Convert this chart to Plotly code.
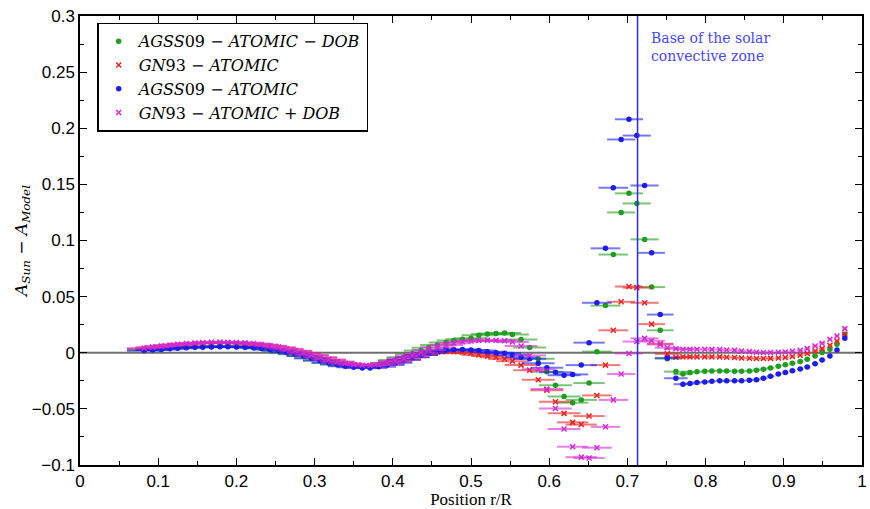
import plotly.graph_objects as go

# ---- data ----
r_pos = [0.082, 0.093, 0.104, 0.115, 0.125, 0.136, 0.147, 0.157, 0.168, 0.179,
         0.189, 0.200, 0.211, 0.222, 0.232, 0.243, 0.254, 0.264, 0.275, 0.286,
         0.296, 0.307, 0.318, 0.329, 0.339, 0.350, 0.361, 0.371, 0.382, 0.393,
         0.403, 0.414, 0.425, 0.436, 0.446, 0.457, 0.468, 0.478, 0.489, 0.500,
         0.510,
         0.521, 0.532, 0.543, 0.553, 0.564, 0.575, 0.586, 0.597, 0.608, 0.619,
         0.630, 0.641, 0.651, 0.661, 0.672, 0.682, 0.692, 0.702, 0.712, 0.722,
         0.731, 0.742, 0.751,
         0.762, 0.771, 0.780, 0.789, 0.799, 0.808, 0.818, 0.827, 0.837, 0.846,
         0.856, 0.865, 0.874, 0.883, 0.893, 0.902, 0.911, 0.921, 0.930, 0.940,
         0.949, 0.959, 0.968, 0.978]

r_err = [0.022, 0.022, 0.022, 0.022, 0.022, 0.022, 0.022, 0.022, 0.022, 0.022,
         0.022, 0.022, 0.022, 0.022, 0.022, 0.022, 0.022, 0.022, 0.022, 0.022,
         0.022, 0.022, 0.022, 0.022, 0.022, 0.022, 0.022, 0.022, 0.022, 0.022,
         0.022, 0.022, 0.022, 0.022, 0.022, 0.022, 0.022, 0.022, 0.022, 0.022,
         0.022,
         0.021, 0.021, 0.021, 0.021, 0.021, 0.021, 0.021, 0.021, 0.021, 0.021,
         0.020, 0.020, 0.020, 0.019, 0.019, 0.019, 0.018, 0.018, 0.018, 0.018,
         0.017, 0.017, 0.016,
         0.015, 0.012, 0.006, 0.006, 0.005, 0.005, 0.005, 0.005, 0.005, 0.005,
         0.005, 0.005, 0.005, 0.005, 0.004, 0.004, 0.004, 0.004, 0.004, 0.004,
         0.004, 0.003, 0.003, 0.003]

agss09_atomic_dob = [0.002, 0.0027, 0.0033, 0.004, 0.0045, 0.005, 0.0053, 0.0056, 0.0058, 0.0058,
                     0.0058, 0.0056, 0.0053, 0.0048, 0.004, 0.003, 0.0018, 0.0003, -0.0013, -0.003,
                     -0.005, -0.007, -0.0088, -0.0103, -0.0115, -0.0123, -0.0125, -0.012, -0.011, -0.009,
                     -0.0065, -0.004, -0.001, 0.002, 0.0045, 0.007, 0.0092, 0.011, 0.012, 0.013,
                     0.0156,
                     0.0166, 0.0172, 0.0175, 0.0163, 0.0118, 0.0047, -0.0053, -0.017, -0.0289, -0.039,
                     -0.0445, -0.042, -0.027, 0.001, 0.042, 0.0875, 0.125, 0.142, 0.133, 0.101,
                     0.0585, 0.020, -0.0053,
                     -0.0168, -0.019, -0.0177, -0.017, -0.0165, -0.0162, -0.0162, -0.0162, -0.0165, -0.0165,
                     -0.0162, -0.0155, -0.0147, -0.0135, -0.012, -0.0108, -0.0094, -0.0079, -0.0058, -0.0028,
                     0.0002, 0.0031, 0.0076, 0.0165]

gn93_atomic = [0.0035, 0.0045, 0.0055, 0.0063, 0.007, 0.0077, 0.0082, 0.0086, 0.0088, 0.0089,
               0.0088, 0.0086, 0.0082, 0.0076, 0.0068, 0.0058, 0.0045, 0.003, 0.0013, -0.0005,
               -0.0025, -0.0045, -0.0065, -0.0083, -0.0098, -0.011, -0.0115, -0.0115, -0.011, -0.0098,
               -0.008, -0.006, -0.004, -0.002, -0.0005, 0.0005, 0.001, 0.001, 0.0005, -0.0005,
               -0.002,
               -0.003, -0.004, -0.0055, -0.0075, -0.011, -0.0155, -0.024, -0.0333, -0.0436, -0.054,
               -0.062, -0.064, -0.0564, -0.038, -0.011, 0.020, 0.0454, 0.059, 0.058, 0.0445,
               0.0255, 0.008, -0.001,
               -0.004, -0.0037, -0.0037, -0.0037, -0.0037, -0.0037, -0.0037, -0.004, -0.0043, -0.0046,
               -0.0049, -0.0052, -0.0052, -0.005, -0.0047, -0.0043, -0.0034, -0.0022, -0.0007, 0.0016,
               0.0037, 0.0067, 0.0105, 0.0165]

agss09_atomic = [0.002, 0.0025, 0.003, 0.0035, 0.004, 0.0045, 0.0048, 0.005, 0.0052, 0.0053,
                 0.0053, 0.0052, 0.005, 0.0045, 0.004, 0.003, 0.002, 0.0005, -0.001, -0.003,
                 -0.005, -0.007, -0.009, -0.0105, -0.012, -0.013, -0.0135, -0.0135, -0.0125, -0.011,
                 -0.009, -0.0065, -0.004, -0.002, 0.0, 0.0015, 0.0025, 0.003, 0.003, 0.0025,
                 0.002,
                 0.001, 0.0, -0.0005, -0.002, -0.004, -0.0053, -0.0093, -0.0134, -0.0173, -0.020,
                 -0.0193, -0.011, 0.009, 0.0445, 0.093, 0.147, 0.190, 0.208, 0.1935, 0.149,
                 0.089, 0.034, -0.0046,
                 -0.0227, -0.028, -0.0275, -0.0265, -0.026, -0.0255, -0.025, -0.025, -0.025, -0.025,
                 -0.0245, -0.024, -0.0228, -0.021, -0.019, -0.0175, -0.016, -0.0145, -0.0126, -0.0097,
                 -0.0064, -0.0028, 0.0025, 0.013]

gn93_atomic_dob = [0.004, 0.005, 0.006, 0.0068, 0.0075, 0.0082, 0.0087, 0.0091, 0.0094, 0.0095,
                   0.0094, 0.0092, 0.0088, 0.0082, 0.0074, 0.0063, 0.005, 0.0035, 0.0018, 0.0,
                   -0.002, -0.004, -0.006, -0.0078, -0.0093, -0.0105, -0.0112, -0.0113, -0.0107, -0.0093,
                   -0.0073, -0.005, -0.0025, 0.0, 0.0025, 0.0048, 0.0068, 0.0085, 0.0098, 0.0105,
                   0.011,
                   0.011, 0.011, 0.0107, 0.0095, 0.006, -0.0024, -0.0148, -0.0324, -0.0496, -0.068,
                   -0.0837, -0.093, -0.0937, -0.0846, -0.066, -0.042, -0.019, -0.0006, 0.010, 0.0128,
                   0.0107, 0.0074, 0.0045,
                   0.0035, 0.0031, 0.0031, 0.0031, 0.0031, 0.003, 0.0028, 0.0025, 0.0022, 0.0016,
                   0.001, 0.0004, 0.0002, 0.0002, 0.0004, 0.0007, 0.0013, 0.0022, 0.0037, 0.006,
                   0.0085, 0.012, 0.015, 0.0215]

series_names = ["<i>AGSS</i>09 − <i>ATOMIC</i> − <i>DOB</i>",
                "<i>GN</i>93 − <i>ATOMIC</i>",
                "<i>AGSS</i>09 − <i>ATOMIC</i>",
                "<i>GN</i>93 − <i>ATOMIC</i> + <i>DOB</i>"]
series_values = [agss09_atomic_dob, gn93_atomic, agss09_atomic, gn93_atomic_dob]
series_colors = ["#1e9e1e", "#ee2020", "#1c1cf0", "#d42ad4"]
series_bar_colors = ["rgba(30,158,30,0.6)", "rgba(238,32,32,0.6)",
                     "rgba(28,28,240,0.6)", "rgba(212,42,212,0.6)"]
series_symbols = ["circle", "x-thin-open", "circle", "x-thin-open"]

bcz = 0.713

x_ticks = [0, 0.1, 0.2, 0.3, 0.4, 0.5, 0.6, 0.7, 0.8, 0.9, 1]
y_ticks = [-0.1, -0.05, 0, 0.05, 0.1, 0.15, 0.2, 0.25, 0.3]

SERIF = "DejaVu Serif, Liberation Serif, serif"

fig = go.Figure()

for name, vals, col, bcol, sym in zip(series_names, series_values, series_colors,
                                      series_bar_colors, series_symbols):
    fig.add_trace(go.Scatter(
        x=r_pos, y=vals, mode="markers", name=name,
        marker=dict(color=col, size=4 if sym == "circle" else 5, symbol=sym,
                    line=dict(color=col, width=1.5)),
        error_x=dict(type="data", array=r_err, visible=True, color=bcol,
                     thickness=2, width=0),
    ))

# zero line
fig.add_shape(type="line", xref="paper", x0=0, x1=1, yref="y", y0=0, y1=0,
              line=dict(color="#707070", width=2), layer="below")
# base of convective zone
fig.add_shape(type="line", xref="x", x0=bcz, x1=bcz, yref="paper", y0=0, y1=1,
              line=dict(color="#2a2aff", width=1.5), layer="above")

fig.add_annotation(x=0.728, y=0.289, xref="x", yref="y", xanchor="left", yanchor="top",
                   align="left", showarrow=False,
                   text="Base of the solar<br>convective zone",
                   font=dict(family=SERIF, size=14, color="#4848ff"))

tick_font = dict(family="Liberation Sans, Arial, sans-serif", size=17, color="black")

fig.update_xaxes(range=[0, 1], tickvals=x_ticks, ticks="inside", ticklen=7,
                 tickcolor="black", showline=True, linecolor="black", linewidth=1.5,
                 mirror="allticks", showgrid=False, zeroline=False, automargin=False,
                 minor=dict(ticks="inside", dtick=0.05, ticklen=4, tickcolor="black"),
                 tickfont=tick_font,
                 title=dict(text="Position r/R", standoff=3,
                            font=dict(family="Liberation Serif, serif", size=17,
                                      color="black")))
fig.update_yaxes(range=[-0.1, 0.3], tickvals=y_ticks, ticks="inside", ticklen=7,
                 tickcolor="black", showline=True, linecolor="black", linewidth=1.5,
                 mirror="allticks", showgrid=False, zeroline=False, automargin=False,
                 minor=dict(ticks="inside", dtick=0.025, ticklen=4, tickcolor="black"),
                 tickfont=tick_font,
                 title=dict(text="<i>A</i><sub><i>Sun</i></sub> − <i>A</i><sub><i>Model</i></sub>",
                            standoff=0,
                            font=dict(family=SERIF, size=17, color="black")))

fig.update_layout(
    width=870, height=509,
    margin=dict(l=80, r=8, t=16, b=44),
    paper_bgcolor="white", plot_bgcolor="white",
    showlegend=True,
    legend=dict(x=0.022, y=0.985, xanchor="left", yanchor="top",
                bgcolor="white", bordercolor="black", borderwidth=1.5,
                font=dict(family=SERIF, size=16, color="black"),
                tracegroupgap=0, itemwidth=30),
)

fig.write_html("out.html")
